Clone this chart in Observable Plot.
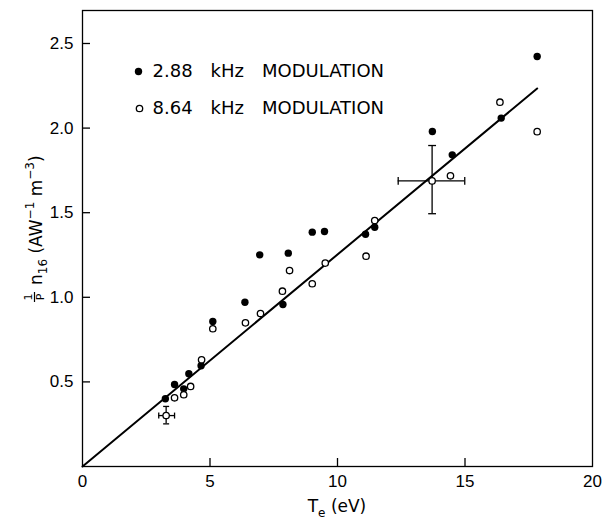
<!DOCTYPE html>
<html><head><meta charset="utf-8">
<script src="https://cdn.jsdelivr.net/npm/d3@7"></script>
<script src="https://cdn.jsdelivr.net/npm/@observablehq/plot@0.6"></script>
<style>body{margin:0;background:#fff} svg{display:block}</style>
</head><body><div id="chart"></div>
<script>
// 2.88 kHz modulation (filled)
const lowTe = [3.25,3.61,3.97,4.17,4.65,5.11,6.37,6.95,7.86,8.07,9.01,9.49,11.10,11.46,13.72,14.50,16.42,17.83];
const lowN  = [0.400,0.485,0.459,0.548,0.595,0.857,0.971,1.251,0.957,1.261,1.385,1.389,1.373,1.414,1.980,1.842,2.059,2.423];
// 8.64 kHz modulation (open)
const highTe = [3.28,3.61,3.97,4.24,4.67,5.11,6.39,6.98,7.84,8.12,9.01,9.52,11.12,11.46,13.71,14.43,16.37,17.83];
const highN  = [0.301,0.406,0.424,0.473,0.631,0.814,0.849,0.904,1.036,1.158,1.080,1.202,1.243,1.454,1.688,1.718,2.153,1.979];
// error bars
const errTe = [3.28,13.71];
const errN = [0.301,1.688];
const errTeLo = [2.99,12.38];
const errTeHi = [3.61,14.99];
const errNLo = [0.252,1.494];
const errNHi = [0.355,1.897];
// fitted line
const fitTe = [0,17.83];
const fitN = [0,2.234];
// ticks
const xTicks = [0,5,10,15,20];
const yTicks = [0.5,1.0,1.5,2.0,2.5];
const yTickLabels = ["0.5","1.0","1.5","2.0","2.5"];
const legendLabels = ["2.88\u2003kHz\u2003MODULATION","8.64\u2003kHz\u2003MODULATION"];

const low = lowTe.map((x,i)=>({x, y: lowN[i]}));
const high = highTe.map((x,i)=>({x, y: highN[i]}));
const errs = errTe.map((x,i)=>({x, y: errN[i], xlo: errTeLo[i], xhi: errTeHi[i], ylo: errNLo[i], yhi: errNHi[i]}));
const fit = fitTe.map((x,i)=>({x, y: fitN[i]}));

const capH = {draw(ctx, size){ const r = Math.sqrt(size/Math.PI); ctx.moveTo(-r,0); ctx.lineTo(r,0);} };
const capV = {draw(ctx, size){ const r = Math.sqrt(size/Math.PI); ctx.moveTo(0,-r); ctx.lineTo(0,r);} };
const capsH = errs.flatMap((d,i)=>[{x:d.x,y:d.ylo,i},{x:d.x,y:d.yhi,i}]);
const capsV = errs.flatMap((d,i)=>[{x:d.xlo,y:d.y,i},{x:d.xhi,y:d.y,i}]);

const W = 612, H = 523, mL = 82, mR = 20, mT = 10, mB = 57;
const font = "Liberation Sans, Arial, Helvetica, sans-serif";
const wideFont = "DejaVu Sans, Verdana, sans-serif";

const chart = Plot.plot({
  width: W, height: H,
  marginLeft: mL, marginRight: mR, marginTop: mT, marginBottom: mB,
  style: {fontFamily: font, fontSize: "17px", color: "black", background: "white"},
  x: {domain: [0,20]},
  y: {domain: [0,2.695]},
  marks: [
    Plot.frame({stroke: "black", strokeWidth: 1.3}),
    Plot.tickX(xTicks.slice(1,-1), {x: d=>d, stroke: "black", strokeWidth: 1.3, insetTop: (H-mT-mB)-8}),
    Plot.tickY(yTicks, {y: d=>d, stroke: "black", strokeWidth: 1.3, insetRight: (W-mL-mR)-8}),
    Plot.axisX(xTicks, {tickSize: 0, tickPadding: 8, label: null, fontSize: 17}),
    Plot.axisY(yTicks, {tickSize: 0, tickPadding: 9, label: null, fontSize: 17, tickFormat: (d,i)=>yTickLabels[i]}),
    Plot.line(fit, {x:"x", y:"y", stroke:"black", strokeWidth: 2}),
    Plot.ruleX(errs, {x:"x", y1:"ylo", y2:"yhi", stroke:"black", strokeWidth:1.3}),
    Plot.ruleY(errs, {y:"y", x1:"xlo", x2:"xhi", stroke:"black", strokeWidth:1.3}),
    Plot.dot(capsH, {x:"x", y:"y", symbol: capH, r: d=> d.i===0 ? 3.5 : 6, stroke:"black", strokeWidth:1.3, fill:"none"}),
    Plot.dot(capsV, {x:"x", y:"y", symbol: capV, r: d=> d.i===0 ? 3.5 : 6, stroke:"black", strokeWidth:1.3, fill:"none"}),
    Plot.dot(low, {x:"x", y:"y", r: 3.7, fill:"black", stroke:"none"}),
    Plot.dot(high, {x:"x", y:"y", r: 3.2, fill:"white", stroke:"black", strokeWidth: 1.3}),
    // legend
    Plot.dot([0], {frameAnchor:"top-left", dx: 56, dy: 61, r: 3.7, fill:"black", stroke:"none"}),
    Plot.dot([0], {frameAnchor:"top-left", dx: 57, dy: 98, r: 3.2, fill:"white", stroke:"black", strokeWidth:1.3}),
    Plot.text([legendLabels[0]], {text: d=>d, frameAnchor:"top-left", dx: 70, dy: 61, textAnchor:"start", lineAnchor:"middle", fontSize: 18, fontFamily: wideFont, fill:"black"}),
    Plot.text([legendLabels[1]], {text: d=>d, frameAnchor:"top-left", dx: 70, dy: 98, textAnchor:"start", lineAnchor:"middle", fontSize: 18, fontFamily: wideFont, fill:"black"})
  ]
});
document.getElementById("chart").appendChild(chart);

const svg = d3.select(chart);
// x title
const xt = svg.append("text").attr("x", 337).attr("y", 512).attr("text-anchor","middle")
  .attr("font-family", wideFont).attr("font-size", 17).attr("fill","black");
xt.append("tspan").text("T");
xt.append("tspan").attr("font-size", 12).attr("dy", 5).text("e");
xt.append("tspan").attr("dy", -5).text(" (eV)");
// y title
const g = svg.append("g").attr("transform","translate(42,302) rotate(-90)")
  .attr("font-family", wideFont).attr("fill","black").attr("text-anchor","start");
g.append("text").attr("x",5).attr("y",-10).attr("text-anchor","middle").attr("font-size",11).text("1");
g.append("line").attr("x1",0).attr("x2",10).attr("y1",-7.5).attr("y2",-7.5).attr("stroke","black").attr("stroke-width",1.2);
g.append("text").attr("x",5).attr("y",2).attr("text-anchor","middle").attr("font-size",11).text("P");
const t = g.append("text").attr("x",17).attr("y",0).attr("font-size",17).attr("text-anchor","start");
t.append("tspan").text("n");
t.append("tspan").attr("font-size",12).attr("dy",5).text("16");
t.append("tspan").attr("dy",-5).text(" (AW");
t.append("tspan").attr("font-size",12).attr("dy",-8).text("\u22121");
t.append("tspan").attr("dy",8).text(" m");
t.append("tspan").attr("font-size",12).attr("dy",-8).text("\u22123");
t.append("tspan").attr("dy",8).text(")");
</script>
</body></html>
